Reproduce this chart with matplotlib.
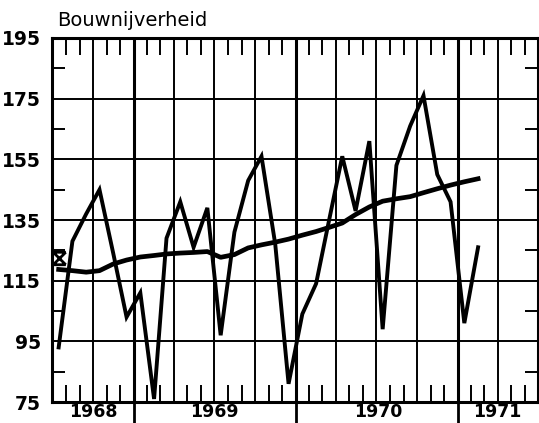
import numpy as np
import pandas as pd
import matplotlib
matplotlib.use('Agg')
import matplotlib.pyplot as plt
import matplotlib.dates as mdates
from matplotlib.path import Path

# Maandcijfers bouwnijverheid, juli 1968 t/m februari 1971
maanden = pd.date_range('1968-07-01', periods=32, freq='MS') + pd.Timedelta(days=15)
bouw = [93, 128, 137, 145, 124, 103, 111, 76, 129, 141, 126, 139,
        97, 131, 148, 156, 127, 81, 104, 114, 134, 156, 138, 161,
        99, 153, 166, 176, 150, 141, 101, 126]
# trend (voortschrijdend gemiddelde)
trend = [118.7, 118.3, 117.8, 118.3, 120.5, 121.8, 122.8, 123.3, 123.8, 124.1, 124.3, 124.6,
         122.7, 123.6, 125.8, 126.8, 127.7, 128.7, 130.0, 131.2, 132.5, 134.0, 136.8, 139.3,
         141.2, 142.0, 142.7, 144.0, 145.3, 146.5, 147.6, 148.6]
# basisniveau-teken aan het begin
basis_datum = pd.Timestamp('1968-07-16')
basis_waarde = 122.5

jaren = ['1968', '1969', '1970', '1971']
jaar_posities = pd.to_datetime(['1968-10-01', '1969-07-01', '1970-07-05', '1971-04-01'])
y_ticks = [75, 95, 115, 135, 155, 175, 195]

fig = plt.figure(figsize=(5.39, 4.23), dpi=100)
ax = fig.add_axes([52 / 539, 21 / 423, 486 / 539, 364 / 423])

x0 = pd.Timestamp('1968-07-01')
x1 = pd.Timestamp('1971-07-01')
ax.set_xlim(x0, x1)
ax.set_ylim(75, 195)

# rasterlijnen per kwartaal, dikker bij de jaargrens
for d in pd.date_range(x0, x1, freq='QS-JAN')[1:-1]:
    ax.axvline(d, color='black', lw=2.2 if d.month == 1 else 1.4, zorder=1)
for v in y_ticks[1:-1]:
    ax.axhline(v, color='black', lw=1.4, zorder=1)

ax.plot(maanden, bouw, color='black', lw=2.8, solid_joinstyle='miter', zorder=3)
ax.plot(maanden, trend, color='black', lw=3.4, zorder=3)

zandloper = Path([(-1, 1), (1, 1), (-1, 1), (1, -1), (1, 1), (-1, -1), (-1, -1), (1, -1)],
                 [Path.MOVETO, Path.LINETO, Path.MOVETO, Path.LINETO,
                  Path.MOVETO, Path.LINETO, Path.MOVETO, Path.LINETO])
ax.plot([basis_datum], [basis_waarde], marker=zandloper, ms=9, mew=2.0,
        color='black', zorder=4)

# x-as: jaargrenzen onder de as, maandstreepjes binnen
ax.xaxis.set_major_locator(mdates.YearLocator())
ax.xaxis.set_minor_locator(mdates.MonthLocator(bymonth=[2, 3, 5, 6, 8, 9, 11, 12]))
ax.tick_params(axis='x', which='major', direction='out', length=16, width=2,
               labelbottom=False, top=False)
ax.tick_params(axis='x', which='minor', direction='in', length=12, width=1.4,
               top=True, bottom=True)

ax.set_yticks(y_ticks)
ax.set_yticks(np.arange(85, 195, 20), minor=True)
ax.tick_params(axis='y', which='major', length=0, pad=8)
ax.tick_params(axis='y', which='minor', direction='in', length=9.5, width=1.4,
               left=True, right=True)
for lab in ax.get_yticklabels():
    lab.set_fontsize(13.5)
    lab.set_fontweight('bold')
    lab.set_family('DejaVu Sans')

for s in ax.spines.values():
    s.set_linewidth(2.2)

for j, p in zip(jaren, jaar_posities):
    ax.text(p, -0.028, j, transform=ax.get_xaxis_transform(), ha='center', va='center',
            fontsize=12.5, fontweight='bold', family='DejaVu Sans')

fig.text(57 / 539, 1 - 20 / 423, 'Bouwnijverheid', ha='left', va='center',
         fontsize=14, family='DejaVu Sans')

fig.savefig('out.png', dpi=100)
